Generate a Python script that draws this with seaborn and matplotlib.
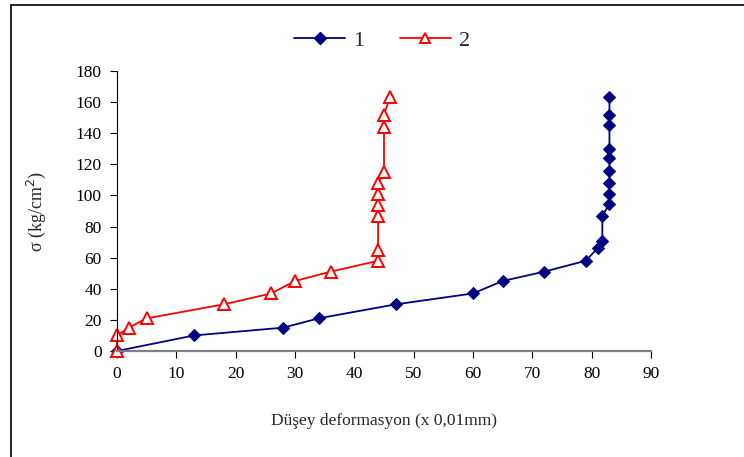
import matplotlib
matplotlib.use("Agg")
import matplotlib.pyplot as plt
from matplotlib.lines import Line2D
import seaborn as sns
import pandas as pd

# Load test series: vertical deformation (x 0.01 mm) vs stress (kg/cm2)
defo_1 = [0, 13, 28, 34, 47, 60, 65, 72, 79, 81, 81.8, 81.8, 83, 83, 83, 83, 83, 83, 83, 83, 83]
sigma_1 = [0, 10, 15, 21, 30, 37, 45, 51, 58, 66, 71, 87, 94.5, 101, 108, 116, 124, 130, 145, 152, 163]

defo_2 = [0, 0, 2, 5, 18, 26, 30, 36, 44, 44, 44, 44, 44, 44, 45, 45, 45, 46]
sigma_2 = [0, 10, 15, 21, 30, 37, 45, 51, 58, 65, 87, 94, 101, 108, 115, 144, 152, 163]

series_names = ["1", "2"]
x_ticks = list(range(0, 91, 10))
y_ticks = list(range(0, 181, 20))

df = pd.concat([
    pd.DataFrame({"x": defo_1, "y": sigma_1, "s": series_names[0]}),
    pd.DataFrame({"x": defo_2, "y": sigma_2, "s": series_names[1]}),
])

sns.set_theme(style="white")
plt.rcParams["font.family"] = ["Liberation Serif", "DejaVu Serif"]

fig = plt.figure(figsize=(7.44, 4.57), dpi=100)
ax = fig.add_axes([117 / 744, 1 - 351 / 457, (651 - 117) / 744, (351 - 71) / 457])

navy = "#000080"
red = "#FF0000"

sns.lineplot(data=df[df.s == "1"], x="x", y="y", sort=False, estimator=None,
             color=navy, lw=1.3, marker="D", markersize=6.5, markerfacecolor=navy,
             markeredgecolor=navy, ax=ax, legend=False)
sns.lineplot(data=df[df.s == "2"], x="x", y="y", sort=False, estimator=None,
             color=red, lw=1.3, marker="^", markersize=8, markerfacecolor="white",
             markeredgecolor=red, markeredgewidth=1.4, ax=ax, legend=False)

ax.set_xlim(0, 90)
ax.set_ylim(0, 180)
ax.set_xticks(x_ticks)
ax.set_yticks(y_ticks)
ax.tick_params(axis="both", which="major", direction="out", length=5, width=0.8,
               colors="black", labelsize=12.5, pad=6, bottom=True, left=True)
for side in ("top", "right"):
    ax.spines[side].set_visible(False)
ax.spines["left"].set_color("black")
ax.spines["left"].set_linewidth(0.8)
ax.spines["bottom"].set_color("#808080")
ax.spines["bottom"].set_linewidth(1.6)
for ln in ax.lines:
    ln.set_clip_on(False)

ax.set_xlabel("Düşey deformasyon (x 0,01mm)", fontsize=12.5, labelpad=22)
ax.set_ylabel("σ (kg/cm$^2$)", fontsize=13, labelpad=20)
ax.grid(False)

handles = [
    Line2D([], [], color=navy, lw=1.3, marker="D", markersize=6.5, markerfacecolor=navy),
    Line2D([], [], color=red, lw=1.3, marker="^", markersize=7, markerfacecolor="white",
           markeredgecolor=red, markeredgewidth=1.4),
]
fig.legend(handles, series_names, loc="center", bbox_to_anchor=(382 / 744, 1 - 41 / 457),
           ncol=2, frameon=False, fontsize=16, handlelength=2.3, columnspacing=1.6,
           handletextpad=0.35)

# outer chart frame (top and left edges)
fig.add_artist(Line2D([11 / 744, 1], [1 - 5 / 457, 1 - 5 / 457], color="black", lw=1.2,
                      transform=fig.transFigure))
fig.add_artist(Line2D([11 / 744, 11 / 744], [0, 1 - 5 / 457], color="black", lw=1.2,
                      transform=fig.transFigure))

fig.savefig("out.png", dpi=100)
